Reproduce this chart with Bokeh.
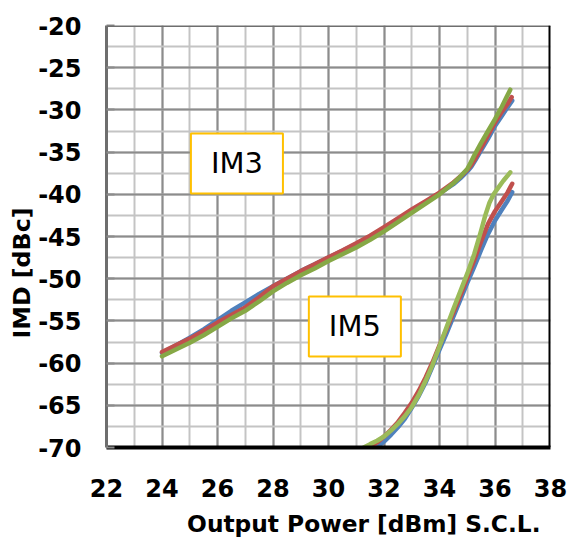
from bokeh.plotting import figure
from bokeh.models import Range1d, SingleIntervalTicker, Span, Label, Title, PrintfTickFormatter
from bokeh.embed import file_html
from bokeh.resources import INLINE

# ---- data ----
im3_blue_x = [24, 24.5, 25, 25.5, 26, 26.5, 27, 27.5, 28, 28.5, 29, 29.5, 30, 30.5, 31, 31.5, 32, 32.5, 33, 33.5, 34, 34.5, 34.75, 35, 35.15, 35.3, 35.5, 35.75, 36, 36.25, 36.45, 36.62]
im3_blue_y = [-58.8, -57.9, -57.0, -56.0, -54.9, -53.8, -52.8, -51.8, -50.9, -50.0, -49.1, -48.3, -47.5, -46.7, -45.9, -45.0, -44.0, -43.0, -41.9, -40.9, -39.9, -38.8, -38.1, -37.3, -36.7, -35.9, -34.8, -33.4, -31.9, -30.7, -29.7, -28.9]

im3_red_x = [24, 24.5, 25, 25.5, 26, 26.5, 27, 27.5, 28, 28.5, 29, 29.5, 30, 30.5, 31, 31.5, 32, 32.5, 33, 33.5, 34, 34.5, 34.75, 35, 35.15, 35.3, 35.5, 35.75, 36, 36.25, 36.45, 36.6]
im3_red_y = [-58.7, -57.9, -57.1, -56.2, -55.2, -54.3, -53.4, -52.2, -50.9, -50.0, -49.1, -48.3, -47.45, -46.65, -45.8, -44.9, -43.9, -42.85, -41.8, -40.8, -39.8, -38.6, -37.9, -37.1, -36.5, -35.7, -34.5, -33.0, -31.5, -30.2, -29.3, -28.5]

im3_green_x = [24, 24.5, 25, 25.5, 26, 26.5, 27, 27.5, 28, 28.5, 29, 29.5, 30, 30.5, 31, 31.5, 32, 32.5, 33, 33.5, 34, 34.5, 34.75, 35, 35.1, 35.25, 35.5, 35.75, 36, 36.25, 36.4, 36.55]
im3_green_y = [-59.2, -58.4, -57.6, -56.7, -55.7, -54.7, -53.8, -52.7, -51.5, -50.5, -49.6, -48.8, -47.9, -47.1, -46.3, -45.4, -44.4, -43.3, -42.2, -41.1, -40.0, -38.7, -37.9, -37.0, -36.4, -35.4, -33.9, -32.5, -31.1, -29.6, -28.6, -27.6]

im5_blue_x = [31.75, 32.0, 32.25, 32.5, 32.75, 33.0, 33.25, 33.5, 33.75, 34.0, 34.25, 34.5, 34.75, 35.0, 35.25, 35.5, 35.75, 36.0, 36.25, 36.45, 36.62]
im5_blue_y = [-70.0, -69.3, -68.5, -67.6, -66.6, -65.3, -63.9, -62.3, -60.4, -58.4, -56.5, -54.5, -52.5, -50.5, -48.6, -46.6, -44.7, -43.1, -41.8, -40.8, -39.75]

im5_red_x = [31.45, 31.75, 32.0, 32.25, 32.5, 32.75, 33.0, 33.25, 33.5, 33.75, 34.0, 34.25, 34.5, 34.75, 35.0, 35.25, 35.5, 35.75, 36.0, 36.25, 36.45, 36.62]
im5_red_y = [-70.0, -69.4, -68.7, -67.9, -67.0, -65.9, -64.7, -63.3, -61.7, -59.9, -57.9, -56.0, -54.0, -52.0, -49.9, -47.8, -45.6, -43.5, -42.0, -40.8, -39.8, -38.75]

im5_green_x = [31.27, 31.5, 31.75, 32.0, 32.25, 32.5, 32.75, 33.0, 33.25, 33.5, 33.75, 34.0, 34.25, 34.5, 34.75, 35.0, 35.25, 35.5, 35.65, 35.8, 35.95, 36.1, 36.3, 36.55]
im5_green_y = [-70.0, -69.6, -69.2, -68.7, -68.0, -67.2, -66.3, -65.2, -63.8, -62.1, -60.2, -58.0, -55.8, -53.6, -51.5, -49.4, -47.1, -44.3, -42.5, -41.0, -40.0, -39.3, -38.4, -37.4]

x_min, x_max = 22, 38
y_min, y_max = -70, -20
x_title = "Output Power [dBm] S.C.L."
y_title = "IMD [dBc]"

FONT = "DejaVu Sans"

p = figure(frame_width=444, frame_height=422,
           min_border_left=106, min_border_right=20, min_border_top=25, min_border_bottom=98,
           x_range=Range1d(x_min, x_max), y_range=Range1d(y_min, y_max),
           output_backend="svg", toolbar_location=None)
p.background_fill_color = "white"
p.border_fill_color = "white"
p.outline_line_color = None

xt = SingleIntervalTicker(interval=2, num_minor_ticks=2)
yt = SingleIntervalTicker(interval=5, num_minor_ticks=2)
p.xaxis.ticker = xt
p.yaxis.ticker = yt
p.xgrid.ticker = xt
p.ygrid.ticker = yt
p.xaxis.formatter = PrintfTickFormatter(format="%d")
p.yaxis.formatter = PrintfTickFormatter(format="%d")

for g in (p.xgrid, p.ygrid):
    g.grid_line_color = "#8C8C8C"
    g.grid_line_width = 2
    g.minor_grid_line_color = "#C4C4C4"
    g.minor_grid_line_width = 2

for ax in (p.xaxis, p.yaxis):
    ax.major_label_text_font = FONT
    ax.major_label_text_font_style = "bold"
    ax.major_label_text_font_size = "24px"
    ax.major_label_text_color = "black"
    ax.minor_tick_line_color = None

p.yaxis.axis_line_color = "#6E6E6E"
p.yaxis.axis_line_width = 3
p.yaxis.major_tick_in = 8
p.yaxis.major_tick_out = 0
p.yaxis.major_tick_line_color = "#8C8C8C"
p.yaxis.major_tick_line_width = 2
p.yaxis.major_label_standoff = 21

p.xaxis.axis_line_color = "black"
p.xaxis.axis_line_width = 4
p.xaxis.major_tick_line_color = None
p.xaxis.major_tick_out = 0
p.xaxis.major_tick_in = 0
p.xaxis.major_label_standoff = 27

# top and right borders
p.add_layout(Span(location=y_max, dimension="width", line_color="#6E6E6E", line_width=3))
p.add_layout(Span(location=x_max, dimension="height", line_color="black", line_width=4))

BLUE = "#4F81BD"
RED = "#C0504D"
GREEN3 = "#86A846"
GREEN5 = "#9BBB59"
LW = 4.5

kw = dict(line_width=LW, line_join="round", line_cap="round")
p.line(im3_blue_x, im3_blue_y, line_color=BLUE, **kw)
p.line(im3_red_x, im3_red_y, line_color=RED, **kw)
p.line(im3_green_x, im3_green_y, line_color=GREEN3, **kw)
p.line(im5_blue_x, im5_blue_y, line_color=BLUE, **kw)
p.line(im5_red_x, im5_red_y, line_color=RED, **kw)
p.line(im5_green_x, im5_green_y, line_color=GREEN5, **kw)

# annotation boxes
for txt, lx, ly in (("IM3", 26.70, -36.35), ("IM5", 30.95, -55.66)):
    p.add_layout(Label(x=lx, y=ly, text=txt, text_font=FONT, text_font_size="29px",
                       text_color="black", text_align="center", text_baseline="middle",
                       background_fill_color="white", border_line_color="#FFC000",
                       border_line_width=2, padding=(20, 13)))

# axis titles
p.add_layout(Title(text=x_title, text_font=FONT, text_font_style="bold",
                   text_font_size="23.3px", text_color="black", align="right",
                   offset=10, standoff=16), "below")
p.add_layout(Title(text=y_title, text_font=FONT, text_font_style="bold",
                   text_font_size="23.7px", text_color="black", align="left",
                   offset=109, standoff=0), "left")

open("out.html", "w").write(file_html(p, INLINE))
